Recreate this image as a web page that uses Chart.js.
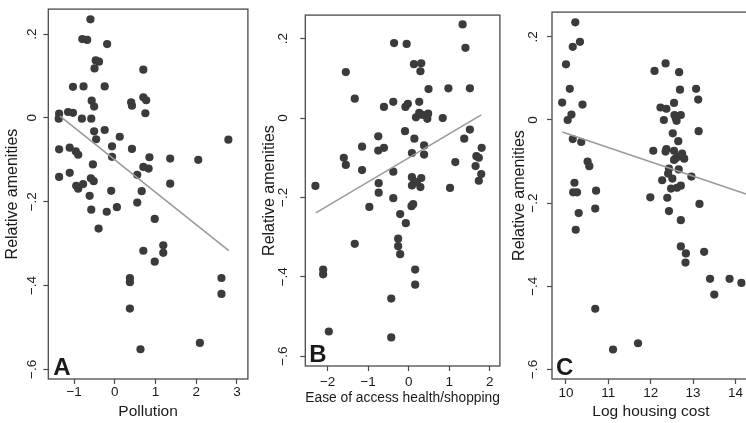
<!DOCTYPE html>
<html>
<head>
<meta charset="utf-8">
<script src="https://cdn.jsdelivr.net/npm/chart.js@4/dist/chart.umd.min.js"></script>
<style>
  html, body { margin: 0; padding: 0; background: #fff; overflow: hidden; width: 746px; height: 423px; }
  canvas { position: absolute; top: 0; }
</style>
</head>
<body>
<canvas id="cA" width="252" height="423" style="left:0px"></canvas>
<canvas id="cB" width="252" height="423" style="left:252px"></canvas>
<canvas id="cC" width="250" height="423" style="left:504px"></canvas>
<script>
// ---------- Data ----------
const yTickValues = [-0.6, -0.4, -0.2, 0, 0.2];
const yTickLabels = ['\u2212.6', '\u2212.4', '\u2212.2', '0', '.2'];

const xTicksA = [-1, 0, 1, 2, 3];
const xTickLabelsA = ['\u22121', '0', '1', '2', '3'];
const xTicksB = [-2, -1, 0, 1, 2];
const xTickLabelsB = ['\u22122', '\u22121', '0', '1', '2'];
const xTicksC = [10, 11, 12, 13, 14];
const xTickLabelsC = ['10', '11', '12', '13', '14'];

const titleY = 'Relative amenities';
const titleXA = 'Pollution';
const titleXB = 'Ease of access health/shopping';
const titleXC = 'Log housing cost';
const panelLetters = ['A', 'B', 'C'];

// Panel A: pollution vs relative amenities
const pollution = [-0.60,-0.80,-0.68,-0.19,-0.47,-0.39,-0.50,0.70,-1.03,-0.77,-0.25,-0.57,-0.51,0.40,0.42,0.70,0.77,0.75,
  -1.37,-1.38,-1.15,-1.03,-0.81,-0.58,-0.51,-0.25,-0.46,0.12,-0.07,-1.37,-1.11,-0.96,-0.90,0.42,-0.07,0.85,1.36,2.05,2.79,
  -0.54,0.70,0.83,-1.37,-1.11,-0.59,-0.52,0.55,-0.95,-0.90,-0.78,1.36,-0.09,0.66,-0.62,0.55,-0.58,-0.20,0.05,-0.40,0.98,
  0.70,1.19,1.19,0.98,0.37,0.37,0.37,2.62,2.62,0.63,2.09];
const amenA = [0.235,0.188,0.186,0.176,0.137,0.134,0.118,0.115,0.074,0.075,0.075,0.041,0.027,0.037,0.029,0.049,0.042,0.011,
  0.010,-0.002,0.014,0.012,-0.002,-0.002,-0.032,-0.029,-0.051,-0.045,-0.068,-0.075,-0.071,-0.080,-0.088,-0.074,-0.093,-0.094,-0.097,-0.100,-0.052,
  -0.111,-0.117,-0.121,-0.141,-0.131,-0.144,-0.151,-0.136,-0.162,-0.169,-0.158,-0.157,-0.174,-0.175,-0.186,-0.202,-0.219,-0.224,-0.213,-0.264,-0.241,
  -0.317,-0.304,-0.322,-0.343,-0.382,-0.392,-0.455,-0.382,-0.420,-0.552,-0.537];
const fitAx = [-1.35, 2.80];
const fitAy = [0.004, -0.317];

// Panel B: ease of access health/shopping vs relative amenities
const access = [1.33,1.40,-0.36,-0.05,0.13,0.31,0.29,-1.55,0.49,0.98,1.51,-1.33,-0.38,-0.61,-0.08,-0.02,0.26,
  0.18,0.26,0.34,0.48,0.46,0.84,-0.09,0.14,1.51,1.37,-0.75,-1.15,-0.61,-0.75,0.38,0.08,0.38,-1.60,-1.55,
  1.67,1.73,1.65,1.79,1.73,1.80,1.15,-1.15,-0.38,0.08,0.14,0.08,0.31,0.29,0.20,1.02,-2.30,-0.74,-0.74,-0.38,-0.97,
  0.11,0.07,-0.21,-0.07,-1.33,-0.26,-0.26,-0.21,-2.11,-2.11,0.16,0.16,-0.43,-1.97,-0.43];
const amenB = [0.236,0.177,0.189,0.187,0.136,0.138,0.118,0.116,0.073,0.075,0.075,0.049,0.041,0.028,0.028,0.036,0.041,
  0.002,0.013,0.008,0.011,-0.002,0.000,-0.033,-0.052,-0.029,-0.052,-0.046,-0.072,-0.075,-0.082,-0.069,-0.088,-0.092,-0.100,-0.118,
  -0.096,-0.100,-0.121,-0.141,-0.158,-0.075,-0.111,-0.131,-0.135,-0.149,-0.160,-0.170,-0.151,-0.174,-0.162,-0.176,-0.171,-0.164,-0.188,-0.202,-0.224,
  -0.217,-0.222,-0.242,-0.265,-0.317,-0.304,-0.323,-0.343,-0.382,-0.394,-0.382,-0.420,-0.455,-0.538,-0.553];
const fitBx = [-2.29, 1.79];
const fitBy = [-0.239, 0.008];

// Panel C: log housing cost vs relative amenities
const housing = [10.22,10.33,10.16,10.00,9.91,10.09,10.39,10.13,10.04,10.16,10.36,10.51,10.55,10.20,10.17,10.26,10.71,10.69,
  10.30,10.23,10.69,11.11,11.70,12.09,12.35,12.67,12.69,13.07,13.12,12.23,12.37,12.55,12.31,12.56,12.61,12.59,12.71,
  12.52,12.65,13.13,12.06,12.37,12.35,12.55,12.59,12.55,12.74,12.79,12.66,12.43,12.41,12.51,12.66,12.96,12.27,
  12.48,12.62,12.71,11.99,12.39,12.43,13.15,12.71,12.71,12.83,12.82,13.26,13.40,13.50,13.86,14.14];
const amenC = [0.235,0.188,0.176,0.134,0.042,0.075,0.037,0.013,0.000,-0.046,-0.053,-0.100,-0.111,-0.151,-0.174,-0.174,-0.170,-0.213,
  -0.224,-0.264,-0.454,-0.552,-0.537,0.118,0.136,0.115,0.073,0.075,0.049,0.030,0.027,0.041,0.000,0.012,-0.002,0.005,0.012,
  -0.032,-0.051,-0.027,-0.074,-0.070,-0.076,-0.074,-0.092,-0.096,-0.081,-0.093,-0.088,-0.117,-0.129,-0.141,-0.119,-0.136,-0.145,
  -0.165,-0.163,-0.158,-0.186,-0.187,-0.219,-0.202,-0.241,-0.304,-0.321,-0.343,-0.317,-0.382,-0.420,-0.382,-0.392];
const fitCx = [9.91, 14.25];
const fitCy = [-0.029, -0.178];

// ---------- Styling ----------
const FONT = '"Liberation Sans", Arial, Helvetica, sans-serif';
const TEXT = '#1a1a1a';
const FRAME = '#4a4a4a';
const DOT = '#3b3b3b';
const FIT = '#9a9a9a';

const pairs = (xs, ys) => xs.map((x, i) => ({ x: x, y: ys[i] }));

const framePlugin = {
  id: 'frameAndLetter',
  beforeDatasetsDraw(chart, args, opts) {
    const { ctx, chartArea: { left, top, right, bottom } } = chart;
    ctx.save();
    ctx.strokeStyle = FRAME;
    ctx.lineWidth = 1.3;
    ctx.strokeRect(left, top, right - left, bottom - top);
    ctx.restore();
  },
  afterDraw(chart, args, opts) {
    const { ctx, chartArea: { left, bottom } } = chart;
    ctx.save();
    ctx.font = 'bold 24px ' + FONT;
    ctx.fillStyle = TEXT;
    ctx.textBaseline = 'alphabetic';
    ctx.textAlign = 'left';
    ctx.fillText(opts.letter, left + opts.dx, bottom - opts.dy);
    ctx.restore();
  }
};

function makePanel(id, cfg) {
  const ctx = document.getElementById(id).getContext('2d');
  return new Chart(ctx, {
    type: 'scatter',
    data: {
      datasets: [
        {
          type: 'line',
          data: pairs(cfg.fitX, cfg.fitY),
          borderColor: FIT,
          borderWidth: 1.6,
          pointRadius: 0,
          fill: false,
          order: 0,
          clip: false
        },
        {
          data: pairs(cfg.xs, cfg.ys),
          backgroundColor: DOT,
          borderColor: DOT,
          borderWidth: 0,
          pointRadius: 4.1,
          order: 1,
          clip: false
        }
      ]
    },
    options: {
      responsive: false,
      animation: false,
      devicePixelRatio: 1,
      layout: { padding: cfg.padding },
      plugins: {
        legend: { display: false },
        tooltip: { enabled: false },
        frameAndLetter: { letter: cfg.letter, dx: cfg.letterDx, dy: cfg.letterDy }
      },
      scales: {
        x: {
          type: 'linear',
          min: cfg.xMin, max: cfg.xMax,
          afterBuildTicks: s => { s.ticks = cfg.xTicks.map(v => ({ value: v })); },
          afterFit: s => { s.height = cfg.xAxisH; },
          border: { display: false },
          grid: { display: true, drawOnChartArea: false, drawTicks: true, tickLength: 5, tickColor: FRAME, tickWidth: 1.2 },
          ticks: {
            autoSkip: false, maxRotation: 0, minRotation: 0,
            padding: cfg.xTickPad,
            color: TEXT,
            font: { family: FONT, size: 13.5 },
            callback: (v) => { const i = cfg.xTicks.indexOf(v); return i >= 0 ? cfg.xLabels[i] : ''; }
          },
          title: {
            display: true, text: cfg.xTitle, color: TEXT,
            font: { family: FONT, size: 15.5 },
            padding: { top: 0, bottom: cfg.xTitlePad }
          }
        },
        y: {
          type: 'linear',
          min: cfg.yMin, max: cfg.yMax,
          afterBuildTicks: s => { s.ticks = yTickValues.map(v => ({ value: v })); },
          afterFit: s => { s.width = cfg.yAxisW; },
          border: { display: false },
          grid: { display: true, drawOnChartArea: false, drawTicks: true, tickLength: 5, tickColor: FRAME, tickWidth: 1.2 },
          ticks: {
            autoSkip: false, minRotation: 90, maxRotation: 90,
            crossAlign: 'center',
            padding: cfg.yTickPad,
            color: TEXT,
            font: { family: FONT, size: 13.5 },
            callback: (v) => { const i = yTickValues.findIndex(t => Math.abs(t - v) < 1e-9); return i >= 0 ? yTickLabels[i] : ''; }
          },
          title: {
            display: true, text: titleY, color: TEXT,
            font: { family: FONT, size: 16 },
            padding: { top: cfg.yTitlePad, bottom: 0 }
          }
        }
      }
    },
    plugins: [framePlugin]
  });
}

makePanel('cA', {
  xs: pollution, ys: amenA, fitX: fitAx, fitY: fitAy,
  xMin: -1.636, xMax: 3.27, yMin: -0.623, yMax: 0.2595,
  xTicks: xTicksA, xLabels: xTickLabelsA, xTitle: titleXA,
  padding: { left: 0, right: 3, top: 4, bottom: 0 },
  xAxisH: 44, yAxisW: 48.3, xTickPad: 0, xTitlePad: 1.5, yTickPad: 1, yTitlePad: 3,
  letter: panelLetters[0], letterDx: 5, letterDy: 4
});

makePanel('cB', {
  xs: access, ys: amenB, fitX: fitBx, fitY: fitBy,
  xMin: -2.55, xMax: 2.25, yMin: -0.625, yMax: 0.2596,
  xTicks: xTicksB, xLabels: xTickLabelsB, xTitle: titleXB,
  padding: { left: 0, right: 2.5, top: 4.7, bottom: 12 },
  xAxisH: 45, yAxisW: 53.3, xTickPad: 3, xTitlePad: 4, yTickPad: 7, yTitlePad: 7.5,
  letter: panelLetters[1], letterDx: 4, letterDy: 4
});

makePanel('cC', {
  xs: housing, ys: amenC, fitX: fitCx, fitY: fitCy,
  xMin: 9.67, xMax: 14.34, yMin: -0.623, yMax: 0.2595,
  xTicks: xTicksC, xLabels: xTickLabelsC, xTitle: titleXC,
  padding: { left: 0, right: 2, top: 4, bottom: 0 },
  xAxisH: 44, yAxisW: 48, xTickPad: 1, xTitlePad: 1.5, yTickPad: 4, yTitlePad: 5.5,
  letter: panelLetters[2], letterDx: 4, letterDy: 4
});
</script>
</body>
</html>
